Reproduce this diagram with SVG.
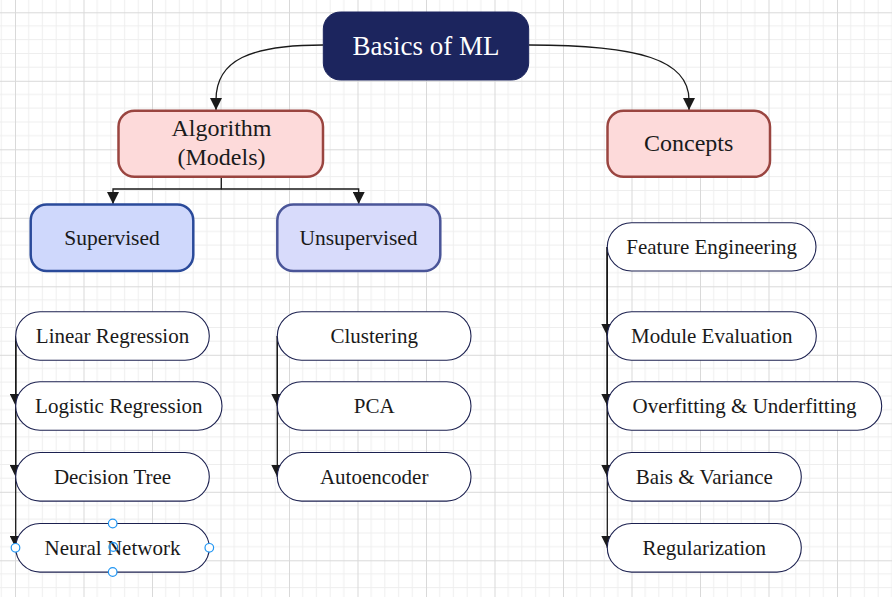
<svg xmlns="http://www.w3.org/2000/svg" width="892" height="597" viewBox="0 0 892 597">
  <style>
    .t { fill: #1a1a1a; text-anchor: middle; }
    .leaf rect { fill: #ffffff; stroke: #1c2150; stroke-width: 1.1; }
    .leaf text { font-size: 21px; }
    .edge { fill: none; stroke: #1a1a1a; stroke-width: 1.3; }
    .handle { fill: #ffffff; stroke: #2196f3; stroke-width: 1.2; }
  </style>
  <defs>
    <pattern id="grid" patternUnits="userSpaceOnUse" x="15" y="12.3" width="68.5" height="68.5">
      <path d="M13.7,0V68.5M27.4,0V68.5M41.1,0V68.5M54.8,0V68.5M0,13.7H68.5M0,27.4H68.5M0,41.1H68.5M0,54.8H68.5" stroke="#eeeeee" stroke-width="1" fill="none"/>
      <path d="M0.5,0V68.5M0,0.5H68.5" stroke="#d9d9d9" stroke-width="1" fill="none"/>
    </pattern>
    <marker id="arrow" markerUnits="userSpaceOnUse" markerWidth="12" markerHeight="12" viewBox="0 0 11 11" refX="11" refY="5.5" orient="auto">
      <path d="M0,0 L11,5.5 L0,11 Z" fill="#1a1a1a"/>
    </marker>
  </defs>

  <rect x="0" y="0" width="892" height="597" fill="#ffffff"/>
  <rect x="0" y="0" width="892" height="597" fill="url(#grid)"/>

  <g id="connectors">
    <path class="edge" d="M323,45 C250,45 216,60 216,100 L216,110" marker-end="url(#arrow)"/>
    <path class="edge" d="M529,45 C640,45 689,60 689,100 L689,110" marker-end="url(#arrow)"/>
    <path class="edge" d="M221.3,177 V189 H113 V204" marker-end="url(#arrow)"/>
    <path class="edge" d="M221.3,189 H358.7 V204" marker-end="url(#arrow)"/>
    <path class="edge" d="M15.7,336 V406" marker-end="url(#arrow)"/>
    <path class="edge" d="M15.7,336 V477" marker-end="url(#arrow)"/>
    <path class="edge" d="M15.7,336 V548" marker-end="url(#arrow)"/>
    <path class="edge" d="M277.3,336 V406" marker-end="url(#arrow)"/>
    <path class="edge" d="M277.3,336 V477" marker-end="url(#arrow)"/>
    <path class="edge" d="M607.3,247 V336" marker-end="url(#arrow)"/>
    <path class="edge" d="M607.3,247 V406" marker-end="url(#arrow)"/>
    <path class="edge" d="M607.3,247 V477" marker-end="url(#arrow)"/>
    <path class="edge" d="M607.3,247 V548" marker-end="url(#arrow)"/>
  </g>

  <g font-family="'Liberation Serif', 'Times New Roman', serif">
  <g id="basics">
    <rect x="323.3" y="12" width="205.4" height="68" rx="17" fill="#1c255e" stroke="#1c255e" stroke-width="1"/>
    <text class="t" x="426" y="54.5" font-size="27" style="fill:#ffffff">Basics of ML</text>
  </g>

  <g id="algorithm">
    <rect x="118.5" y="110.8" width="204.5" height="66" rx="16" fill="#fddada" stroke="#9a4540" stroke-width="2.5"/>
    <text class="t" x="221.5" y="136" font-size="24">Algorithm</text>
    <text class="t" x="221.5" y="165" font-size="24">(Models)</text>
  </g>

  <g id="concepts">
    <rect x="607.5" y="110.8" width="162.5" height="66" rx="16" fill="#fddada" stroke="#9a4540" stroke-width="2.5"/>
    <text class="t" x="688.7" y="151" font-size="24">Concepts</text>
  </g>

  <g id="supervised">
    <rect x="30.7" y="204.5" width="162.6" height="66.5" rx="16" fill="#cfd8fc" stroke="#2a4a9a" stroke-width="2.5"/>
    <text class="t" x="112" y="245" font-size="21.5">Supervised</text>
  </g>

  <g id="unsupervised">
    <rect x="277.3" y="204.5" width="163" height="66.5" rx="16" fill="#d8dbfb" stroke="#4a5598" stroke-width="2.5"/>
    <text class="t" x="358.5" y="245" font-size="21.5">Unsupervised</text>
  </g>

  <g id="linear-regression" class="leaf">
    <rect x="15.7" y="311.7" width="193.6" height="48.6" rx="24.3"/>
    <text class="t" x="112.5" y="343.3">Linear Regression</text>
  </g>
  <g id="logistic-regression" class="leaf">
    <rect x="15.7" y="381.7" width="206.3" height="48.6" rx="24.3"/>
    <text class="t" x="118.8" y="413.3">Logistic Regression</text>
  </g>
  <g id="decision-tree" class="leaf">
    <rect x="15.7" y="452.5" width="193.6" height="48.6" rx="24.3"/>
    <text class="t" x="112.5" y="484">Decision Tree</text>
  </g>
  <g id="neural-network" class="leaf">
    <rect x="15.7" y="523.5" width="193.6" height="48.6" rx="24.3"/>
    <text class="t" x="112.5" y="555">Neural Network</text>
  </g>

  <g id="clustering" class="leaf">
    <rect x="277.3" y="311.7" width="193.7" height="48.6" rx="24.3"/>
    <text class="t" x="374.2" y="343.3">Clustering</text>
  </g>
  <g id="pca" class="leaf">
    <rect x="277.3" y="381.7" width="193.7" height="48.6" rx="24.3"/>
    <text class="t" x="374.2" y="413.3">PCA</text>
  </g>
  <g id="autoencoder" class="leaf">
    <rect x="277.3" y="452.5" width="193.7" height="48.6" rx="24.3"/>
    <text class="t" x="374.2" y="484">Autoencoder</text>
  </g>

  <g id="feature-engineering" class="leaf">
    <rect x="607.3" y="222.7" width="208.7" height="48.3" rx="24.2"/>
    <text class="t" x="711.7" y="254.3">Feature Engineering</text>
  </g>
  <g id="module-evaluation" class="leaf">
    <rect x="607.3" y="311.7" width="209" height="48.6" rx="24.3"/>
    <text class="t" x="711.8" y="343.3">Module Evaluation</text>
  </g>
  <g id="overfitting" class="leaf">
    <rect x="607.3" y="381.7" width="274.4" height="48.6" rx="24.3"/>
    <text class="t" x="744.5" y="413.3">Overfitting &amp; Underfitting</text>
  </g>
  <g id="bias-variance" class="leaf">
    <rect x="607.3" y="452.5" width="194" height="48.6" rx="24.3"/>
    <text class="t" x="704.3" y="484">Bais &amp; Variance</text>
  </g>
  <g id="regularization" class="leaf">
    <rect x="607.3" y="523.5" width="194" height="48.6" rx="24.3"/>
    <text class="t" x="704.3" y="555">Regularization</text>
  </g>
  </g>

  <g id="selection-handles">
    <circle class="handle" cx="112.7" cy="523.5" r="4.3"/>
    <circle class="handle" cx="15.5" cy="547.8" r="4.3"/>
    <circle class="handle" cx="209.3" cy="547.8" r="4.3"/>
    <circle class="handle" cx="112.7" cy="572" r="4.3"/>
    <circle class="handle" cx="113.3" cy="547" r="4.3" style="fill:none"/>
  </g>
</svg>
